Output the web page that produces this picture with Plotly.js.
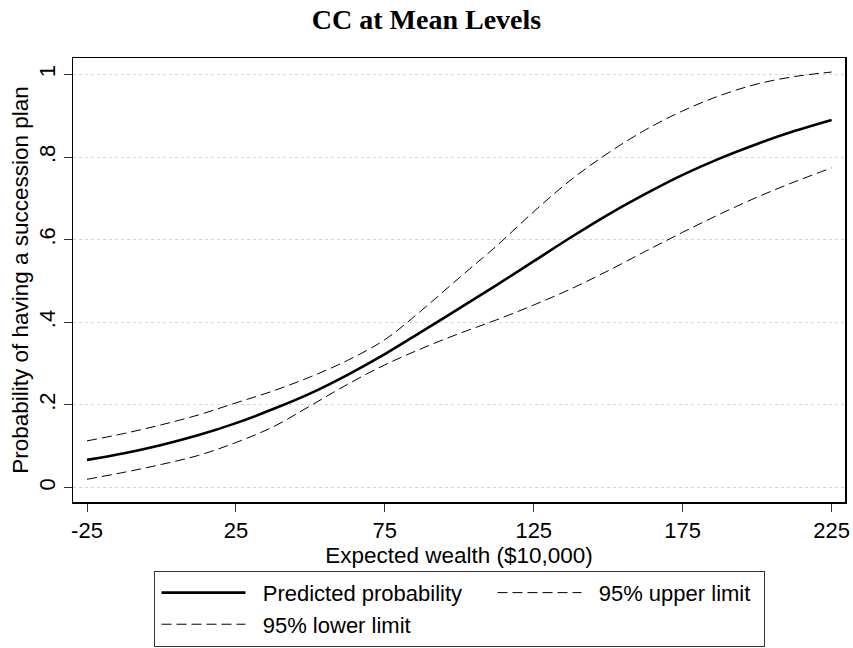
<!DOCTYPE html>
<html>
<head>
<meta charset="utf-8">
<script src="https://cdn.plot.ly/plotly-3.0.1.min.js"></script>
<style>html,body{margin:0;padding:0;background:#fff;}#chart{width:853px;height:648px;}</style>
</head>
<body>
<div id="chart"></div>
<script>
// Expected wealth ($10,000)
var wealth = [-25, -12.5, 0, 12.5, 25, 37.5, 50, 62.5, 75, 87.5, 100, 112.5, 125, 137.5, 150, 162.5, 175, 187.5, 200, 212.5, 225];
var predicted = [0.067, 0.083, 0.103, 0.127, 0.156, 0.19, 0.228, 0.273, 0.323, 0.378, 0.434, 0.49, 0.548, 0.606, 0.661, 0.711, 0.757, 0.797, 0.832, 0.863, 0.89];
var upper = [0.113, 0.131, 0.152, 0.176, 0.205, 0.234, 0.268, 0.308, 0.358, 0.43, 0.508, 0.585, 0.668, 0.745, 0.81, 0.866, 0.912, 0.949, 0.977, 0.995, 1.006];
var lower = [0.02, 0.037, 0.056, 0.078, 0.109, 0.147, 0.198, 0.25, 0.297, 0.337, 0.373, 0.406, 0.442, 0.481, 0.525, 0.572, 0.618, 0.662, 0.703, 0.74, 0.774];
var seriesNames = ['Predicted probability', '95% upper limit', '95% lower limit'];
var xTicks = [-25, 25, 75, 125, 175, 225];
var xTickText = ['-25', '25', '75', '125', '175', '225'];
var yTicks = [0, 0.2, 0.4, 0.6, 0.8, 1];
var yTickText = ['0', '.2', '.4', '.6', '.8', '1'];

var sans = 'Liberation Sans, Arial, sans-serif';
var pad = '\u00a0\u00a0';
var traces = [
  {x: wealth, y: predicted, type: 'scatter', mode: 'lines', name: pad + seriesNames[0], legendwidth: 235,
   line: {color: '#000', width: 2.6, shape: 'spline'}},
  {x: wealth, y: upper, type: 'scatter', mode: 'lines', name: pad + seriesNames[1], legendwidth: 172,
   line: {color: '#000', width: 1, dash: '10px,5px', shape: 'spline'}},
  {x: wealth, y: lower, type: 'scatter', mode: 'lines', name: pad + seriesNames[2], legendwidth: 235,
   line: {color: '#000', width: 1, dash: '10px,5px', shape: 'spline'}}
];
var layout = {
  width: 853, height: 648,
  paper_bgcolor: '#fff', plot_bgcolor: '#fff',
  margin: {l: 73, r: 8, t: 58, b: 146, pad: 0, autoexpand: false},
  font: {family: sans, size: 22, color: '#000'},
  title: {text: '<b>CC at Mean Levels</b>', font: {family: 'Liberation Serif, Times New Roman, serif', size: 28, color: '#000'},
          x: 0.5, xanchor: 'center', y: 0.97, yref: 'container', yanchor: 'middle'},
  xaxis: {range: [-29.7, 229.5], tickvals: xTicks, ticktext: xTickText, ticks: 'outside', ticklen: 8, tickwidth: 1, tickcolor: '#333',
          showgrid: false, zeroline: false, showline: true, mirror: true, linecolor: '#000', linewidth: 1.5,
          tickfont: {family: sans, size: 22}, automargin: false,
          title: {text: 'Expected wealth ($10,000)', font: {family: sans, size: 22.5}, standoff: 0}},
  yaxis: {range: [-0.035, 1.04], tickvals: yTicks, ticktext: yTickText, tickangle: -90, ticks: 'outside', ticklen: 8,
          tickwidth: 1, tickcolor: '#333', showgrid: true, gridcolor: '#d6d6d6', griddash: 'dot', gridwidth: 1,
          zeroline: false, showline: true, mirror: true, linecolor: '#000', linewidth: 1.5,
          tickfont: {family: sans, size: 22}, automargin: false,
          title: {text: 'Probability of having a succession plan', font: {family: sans, size: 22.5}, standoff: 0}},
  showlegend: true,
  legend: {orientation: 'h', x: 0.5, xanchor: 'center', y: -0.155, yanchor: 'top', yref: 'paper',
           bordercolor: '#333', borderwidth: 1, bgcolor: '#fff', font: {family: sans, size: 22},
           itemwidth: 84, indentation: 2, entrywidthmode: 'pixels', traceorder: 'normal'}
};
Plotly.newPlot('chart', traces, layout, {displayModeBar: false, staticPlot: true});
</script>
</body>
</html>
